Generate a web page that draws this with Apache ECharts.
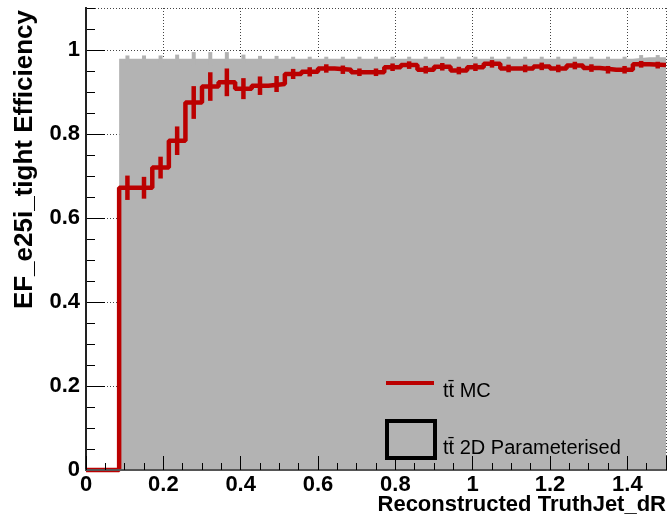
<!DOCTYPE html>
<html><head><meta charset="utf-8">
<script src="https://cdn.jsdelivr.net/npm/echarts@6/dist/echarts.min.js"></script>
<style>html,body{margin:0;padding:0;background:#fff}#c{width:669px;height:520px}</style>
</head><body><div id="c"></div>
<script>
// Histogram binning
const X_MIN = 0, X_MAX = 1.5, N_BINS = 35;
const Y_MIN = 0, Y_MAX = 1.1;

// ttbar MC efficiency per bin (red)
const mcEff = [0, 0, 0.672, 0.672, 0.720, 0.784, 0.875, 0.913, 0.923, 0.908,
  0.915, 0.919, 0.943, 0.948, 0.956, 0.953, 0.947, 0.947, 0.959, 0.964,
  0.953, 0.960, 0.951, 0.959, 0.967, 0.956, 0.956, 0.961, 0.956, 0.963,
  0.957, 0.953, 0.953, 0.966, 0.964];
const mcErr = [0, 0, 0.029, 0.026, 0.026, 0.034, 0.039, 0.034, 0.033, 0.025,
  0.022, 0.019, 0.012, 0.011, 0.010, 0.010, 0.009, 0.009, 0.009, 0.009,
  0.009, 0.009, 0.009, 0.009, 0.009, 0.009, 0.009, 0.009, 0.009, 0.009,
  0.009, 0.009, 0.009, 0.008, 0.008];

// ttbar 2D parameterised efficiency per bin (grey)
const parEff = [null, null, 0.979, 0.979, 0.979, 0.979, 0.979, 0.979, 0.979, 0.979,
  0.979, 0.979, 0.979, 0.979, 0.979, 0.979, 0.979, 0.979, 0.979, 0.979,
  0.979, 0.979, 0.979, 0.979, 0.979, 0.979, 0.979, 0.979, 0.979, 0.979,
  0.979, 0.979, 0.979, 0.983, 0.983];
const parErr = [0, 0, 0.008, 0.008, 0.008, 0.010, 0.016, 0.016, 0.016, 0.010,
  0.007, 0.007, 0.005, 0.005, 0.005, 0.005, 0.005, 0.005, 0.005, 0.005,
  0.005, 0.005, 0.005, 0.005, 0.005, 0.005, 0.005, 0.005, 0.005, 0.005,
  0.005, 0.005, 0.005, 0.005, 0.005];

const xTitle = 'Reconstructed TruthJet_dR';
const yTitle = 'EF_e25i_tight Efficiency';
const legendMC = 't\u0074\u0304 MC';
const legendPar = 't\u0074\u0304 2D Parameterised';

const RED = '#bb0000', GREY = '#b3b3b3';
const FONT = 'Liberation Sans, Arial, Helvetica, sans-serif';

const binW = (X_MAX - X_MIN) / N_BINS;
const edge = i => X_MIN + i * binW;

// step-line points (left edges + final right edge)
function stepData(vals) {
  const out = [];
  let last = null;
  vals.forEach((v, i) => { if (v !== null) { out.push([edge(i), v]); last = v; } });
  out.push([X_MAX, last]);
  return out;
}
function errData(vals, errs) {
  const out = [];
  vals.forEach((v, i) => { if (v !== null && errs[i] > 0) out.push([edge(i) + binW / 2, v, errs[i]]); });
  return out;
}
function errRender(color, w) {
  return function (params, api) {
    const x = api.value(0), y = api.value(1), e = api.value(2);
    const p1 = api.coord([x, y - e]), p2 = api.coord([x, y + e]);
    return { type: 'line', shape: { x1: p1[0], y1: p1[1], x2: p2[0], y2: p2[1] },
      style: { stroke: color, lineWidth: w } };
  };
}

const labelStyle = { color: '#000', fontFamily: FONT, fontWeight: 'bold', fontSize: 22 };
const dotted = { show: true, lineStyle: { color: '#444', width: 1, type: [1, 2] } };

const chart = echarts.init(document.getElementById('c'), null, { renderer: 'canvas' });
chart.setOption({
  animation: false,
  backgroundColor: '#fff',
  title: { text: xTitle, right: 3, top: 494, padding: 0,
    textStyle: { color: '#000', fontFamily: FONT, fontWeight: 'bold', fontSize: 22 } },
  grid: { left: 86, right: 3, top: 8, bottom: 50, containLabel: false, outerBoundsMode: 'none' },
  xAxis: [
    { type: 'value', min: X_MIN, max: X_MAX, interval: 0.2, position: 'bottom', z: 0,
      axisLine: { show: true, onZero: false, lineStyle: { color: '#000', width: 2 } },
      axisTick: { show: false },
      axisLabel: Object.assign({ margin: 4, showMaxLabel: false }, labelStyle),
      splitLine: dotted },
    { type: 'value', min: X_MIN, max: X_MAX, interval: 0.2, position: 'bottom', z: 5,
      axisLine: { show: false }, axisLabel: { show: false }, splitLine: { show: false },
      axisTick: { show: true, inside: true, length: 14, lineStyle: { color: '#000', width: 1 } } },
    { type: 'value', min: X_MIN, max: X_MAX, interval: 0.05, position: 'bottom', z: 5,
      axisLine: { show: false }, axisLabel: { show: false }, splitLine: { show: false },
      axisTick: { show: true, inside: true, length: 7, lineStyle: { color: '#000', width: 1 } } },
    { type: 'value', min: X_MIN, max: X_MAX, position: 'top', z: 5,
      axisLine: { show: true, lineStyle: { color: '#555', width: 2 } },
      axisTick: { show: false }, axisLabel: { show: false }, splitLine: { show: false } }
  ],
  yAxis: [
    { type: 'value', min: Y_MIN, max: Y_MAX, interval: 0.2, position: 'left', z: 0,
      axisLine: { show: true, onZero: false, lineStyle: { color: '#000', width: 2 } },
      axisTick: { show: true, inside: true, length: 19, lineStyle: { color: '#000', width: 1 } },
      axisLabel: Object.assign({ margin: 6, showMaxLabel: false }, labelStyle),
      splitLine: dotted,
      name: yTitle, nameLocation: 'end', nameGap: -2, nameRotate: 90,
      nameTextStyle: { color: '#000', fontFamily: FONT, fontWeight: 'bold', fontSize: 26,
        align: 'right', verticalAlign: 'bottom', padding: [0, 0, 48, 0] } },
    { type: 'value', min: Y_MIN, max: Y_MAX, interval: 0.05, position: 'left', z: 0,
      axisLine: { show: false }, axisLabel: { show: false }, splitLine: { show: false },
      axisTick: { show: true, inside: true, length: 9, lineStyle: { color: '#000', width: 1 } } },
    { type: 'value', min: Y_MIN, max: Y_MAX, position: 'right', z: 5,
      axisLine: { show: true, lineStyle: { color: '#222', width: 2 } },
      axisTick: { show: false }, axisLabel: { show: false }, splitLine: { show: false } }
  ],
  series: [
    { name: legendPar, type: 'line', step: 'end', data: stepData(parEff), xAxisIndex: 0, yAxisIndex: 0,
      showSymbol: false, clip: false, lineStyle: { width: 0, color: GREY },
      areaStyle: { color: GREY, opacity: 1 }, z: 1 },
    { type: 'custom', data: errData(parEff, parErr), xAxisIndex: 0, yAxisIndex: 0,
      renderItem: errRender(GREY, 4), encode: { x: 0, y: 1 }, clip: false, z: 1 },
    { name: legendMC, type: 'line', step: 'end', data: stepData(mcEff), xAxisIndex: 0, yAxisIndex: 0,
      showSymbol: false, clip: false, lineStyle: { width: 4.5, color: RED }, z: 2 },
    { type: 'custom', data: errData(mcEff, mcErr), xAxisIndex: 0, yAxisIndex: 0,
      renderItem: errRender(RED, 4.5), encode: { x: 0, y: 1 }, clip: false, z: 2 }
  ],
  graphic: [
    { type: 'line', shape: { x1: 386, y1: 383, x2: 434, y2: 383 }, style: { stroke: RED, lineWidth: 4 }, z: 10 },
    { type: 'text', x: 443, y: 391, style: { text: legendMC, fill: '#000', font: '20px ' + FONT, verticalAlign: 'middle' }, z: 10 },
    { type: 'rect', shape: { x: 387, y: 421, width: 48, height: 37 }, style: { fill: 'none', stroke: '#000', lineWidth: 4 }, z: 10 },
    { type: 'text', x: 443, y: 448, style: { text: legendPar, fill: '#000', font: '20px ' + FONT, verticalAlign: 'middle' }, z: 10 }
  ]
});
</script></body></html>
